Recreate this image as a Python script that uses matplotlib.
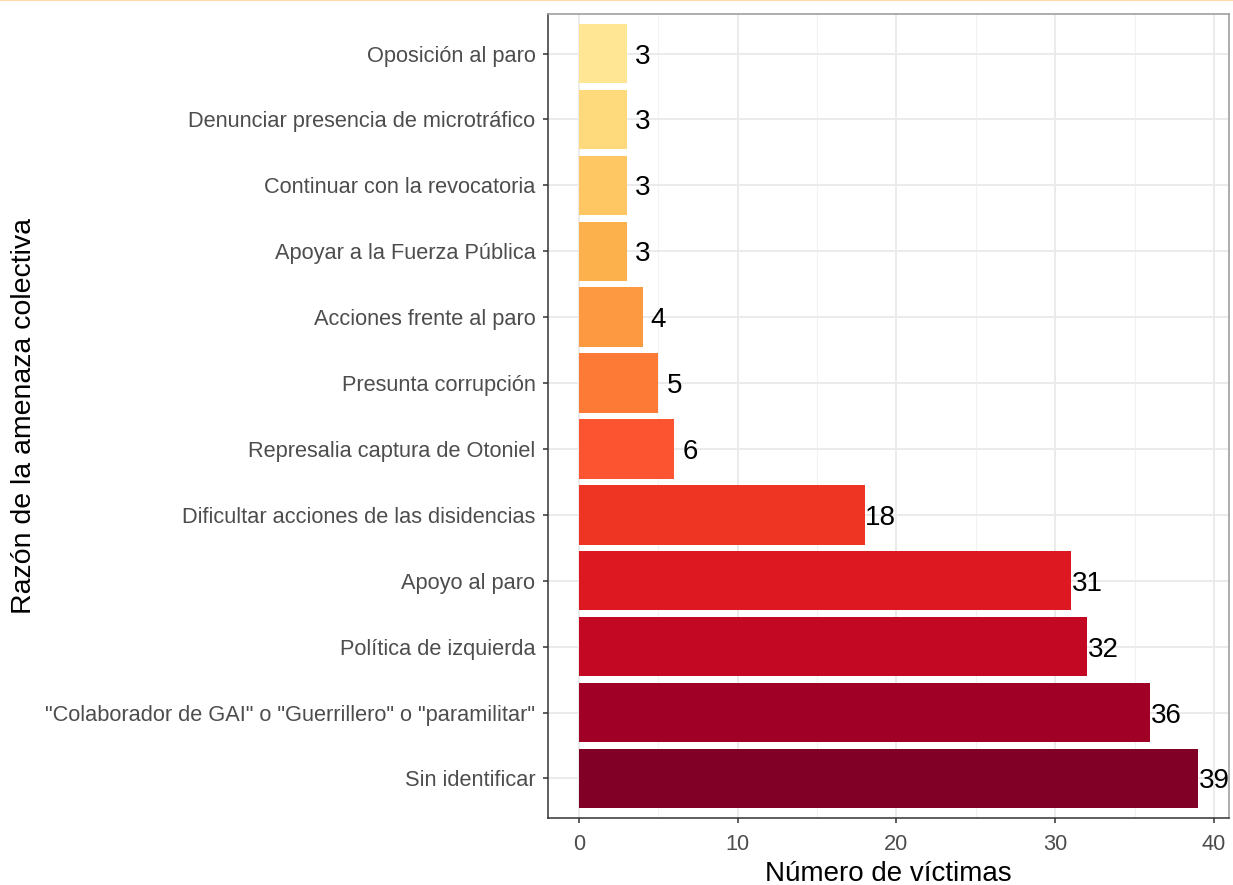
import matplotlib
matplotlib.use("Agg")
import matplotlib.pyplot as plt
from matplotlib.lines import Line2D
from matplotlib.ticker import MultipleLocator

plt.rcParams['font.family'] = ['Liberation Sans', 'DejaVu Sans']

categories = [
    "Sin identificar",
    "\"Colaborador de GAI\" o \"Guerrillero\" o \"paramilitar\"",
    "Política de izquierda",
    "Apoyo al paro",
    "Dificultar acciones de las disidencias",
    "Represalia captura de Otoniel",
    "Presunta corrupción",
    "Acciones frente al paro",
    "Apoyar a la Fuerza Pública",
    "Continuar con la revocatoria",
    "Denunciar presencia de microtráfico",
    "Oposición al paro",
]
values = [39, 36, 32, 31, 18, 6, 5, 4, 3, 3, 3, 3]
colors = ["#800026", "#A10026", "#C20823", "#DD1820", "#EE3524", "#FC5330",
          "#FC7A35", "#FD9941", "#FDB14D", "#FEC764", "#FEDA7C", "#FEE695"]
xticks = [0, 10, 20, 30, 40]

fig = plt.figure(figsize=(12.33, 8.85), dpi=100)
ax = fig.add_axes([0.4445, 0.0757, 0.9968 - 0.4445, 0.9842 - 0.0757])

ypos = list(range(len(categories)))
ax.barh(ypos, values, height=0.9, color=colors, zorder=3)
for y, v in zip(ypos, values):
    ax.text(v + 1, y, str(v), ha='center', va='center_baseline', fontsize=20,
            color='black', zorder=4)

ax.set_xlim(-1.95, 40.95)
ax.set_ylim(-0.6, len(categories) - 0.4)
ax.set_yticks(ypos)
ax.set_yticklabels(categories)
ax.set_xticks(xticks)
ax.xaxis.set_minor_locator(MultipleLocator(5))

ax.grid(True, which='major', color='#EBEBEB', linewidth=1.4, zorder=0)
ax.grid(True, which='minor', axis='x', color='#F2F2F2', linewidth=0.8, zorder=0)
ax.set_axisbelow(True)

ax.tick_params(axis='both', which='major', labelsize=15.65, labelcolor='#4D4D4D',
               color='#333333', length=3.6, width=1.1, pad=5.5)
ax.tick_params(axis='x', which='major', pad=8)
ax.tick_params(axis='x', which='minor', length=0)

for s in ['left', 'bottom']:
    ax.spines[s].set_color('#333333')
    ax.spines[s].set_linewidth(1.1)
for s in ['top', 'right']:
    ax.spines[s].set_color('#A0A0A0')
    ax.spines[s].set_linewidth(1.2)

ax.set_xlabel("Número de víctimas", fontsize=20, labelpad=4)
ax.set_ylabel("Razón de la amenaza colectiva", fontsize=20.5)
ax.yaxis.set_label_coords(-0.75, 0.5)

fig.add_artist(Line2D([0, 1], [0.9995, 0.9995], transform=fig.transFigure,
                      color='#FFD8A8', linewidth=1.5))

fig.savefig("out.png", dpi=100)
